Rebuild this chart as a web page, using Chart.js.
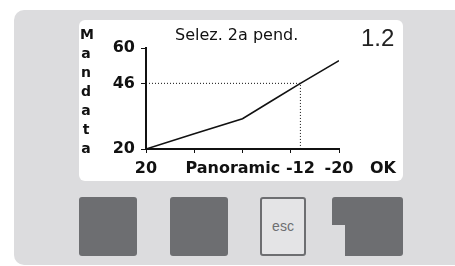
<!DOCTYPE html>
<html>
<head>
<meta charset="utf-8">
<script src="https://cdn.jsdelivr.net/npm/chart.js@4"></script>
<style>
  body { margin: 0; background: #fff; }
  #wrap { position: relative; width: 455px; height: 266px; overflow: hidden; font-family: "DejaVu Sans", sans-serif; }
  #panel { position: absolute; left: 14px; top: 10px; width: 460px; height: 255px; background: #dcdcde; border-radius: 10px 0 0 10px; }
  #screen { position: absolute; left: 79px; top: 20px; width: 324px; height: 161px; background: #fff; border-radius: 6px; }
  #screen canvas { position: absolute; left: 0; top: 0; }
  .txt { position: absolute; color: #111; white-space: nowrap; }
  .btn { position: absolute; top: 197px; height: 59px; background: #6d6e71; border-radius: 3px; }
</style>
</head>
<body>
<div id="wrap">
  <div id="panel"></div>
  <div id="screen">
    <canvas id="lcdChart" width="324" height="161"></canvas>
  </div>
  <div class="txt" id="title" style="left:175px; top:25px; font-size:16px;">Selez. 2a pend.</div>
  <div class="txt" style="left:361px; top:24px; font-size:24px; font-family:'Liberation Sans',sans-serif; color:#222;">1.2</div>
  <div class="txt" style="left:370px; top:158px; font-size:16px; font-weight:bold;">OK</div>
  <div class="txt" id="yname" style="left:80px; top:25px; font-size:14px; font-weight:bold; line-height:19px; width:12px; white-space:normal; text-align:center;"></div>
  <div class="btn" style="left:79px; width:58px;"></div>
  <div class="btn" style="left:170px; width:58px;"></div>
  <div class="btn" style="left:260px; width:46px; height:59px; box-sizing:border-box; background:#e4e4e6; border:2px solid #6d6e71; color:#6d6e71; font-family:'Liberation Sans',sans-serif; font-size:14px; text-align:center; line-height:55px;">esc</div>
  <div class="btn" style="left:332px; width:71px; clip-path:polygon(0 0,100% 0,100% 100%,13px 100%,13px 28px,0 28px);"></div>
</div>
<script>
// Curva di riscaldamento: temperatura esterna -> mandata
const outdoorTemps = [20, 10, 0, -6, -12, -20];
const flowTemps = [20, 26, 32, 39, 46, 55];
// punto selezionato
const selOutdoor = -12;
const selFlow = 46;
const yTicks = [20, 46, 60];
const xTicks = [20, 10, 2, 0, -10, -12, -20];
const xLabels = {20: '20', 2: 'Panoramic', '-12': '-12', '-20': '-20'};
const yName = 'Mandata';

document.getElementById('yname').innerHTML = yName.split('').join('<br>');

const curve = outdoorTemps.map((t, i) => ({x: t, y: flowTemps[i]}));
const guide = [{x: 20, y: selFlow}, {x: selOutdoor, y: selFlow}, {x: selOutdoor, y: 20}];

const ctx = document.getElementById('lcdChart');
const lcdFont = {family: 'DejaVu Sans', size: 16, weight: 'bold'};

new Chart(ctx, {
  type: 'line',
  data: {
    datasets: [{
      data: curve,
      borderColor: '#111',
      borderWidth: 1.6,
      pointRadius: 0,
      tension: 0
    }, {
      data: guide,
      borderColor: '#111',
      borderWidth: 1,
      borderDash: [1, 2],
      pointRadius: 0
    }]
  },
  options: {
    responsive: false,
    animation: false,
    layout: { padding: {left: 0, top: 28, right: 64, bottom: 0} },
    plugins: { legend: {display: false}, tooltip: {enabled: false} },
    scales: {
      x: {
        type: 'linear',
        min: -20,
        max: 20,
        reverse: true,
        afterFit: function(scale) { scale.height = 32; },
        afterBuildTicks: function(scale) { scale.ticks = xTicks.map(v => ({value: v})); },
        border: {color: '#111', width: 2},
        grid: {
          drawOnChartArea: false,
          tickLength: 4,
          color: function(c) { return (c.tick && (c.tick.value === 2 || c.tick.value === -12)) ? 'rgba(0,0,0,0)' : '#111'; }
        },
        ticks: {
          autoSkip: false,
          maxRotation: 0,
          color: '#111',
          font: lcdFont,
          padding: 6,
          callback: function(value) { return xLabels[value] || ''; }
        }
      },
      y: {
        type: 'linear',
        min: 20,
        max: 60,
        afterFit: function(scale) { scale.width = 67; },
        afterBuildTicks: function(scale) { scale.ticks = yTicks.map(v => ({value: v})); },
        border: {color: '#111', width: 2},
        grid: {drawOnChartArea: false, tickLength: 5, color: '#111'},
        ticks: {
          color: '#111',
          font: lcdFont,
          padding: 6
        }
      }
    }
  }
});
</script>
</body>
</html>
